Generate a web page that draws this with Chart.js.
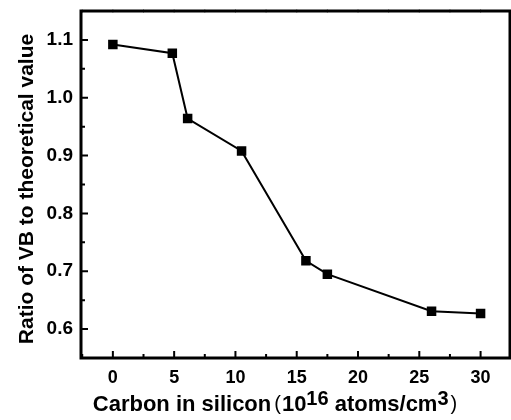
<!DOCTYPE html>
<html>
<head>
<meta charset="utf-8">
<script src="https://cdn.jsdelivr.net/npm/chart.js@4/dist/chart.umd.min.js"></script>
<style>
html,body{margin:0;padding:0;background:#fff;}
#wrap{width:511px;height:420px;position:relative;}
</style>
</head>
<body>
<div id="wrap"><canvas id="c" width="511" height="420"></canvas></div>
<script>
const carbon = [0, 4.85, 6.1, 10.5, 15.75, 17.5, 26, 30];
const ratio = [1.092, 1.077, 0.964, 0.908, 0.718, 0.695, 0.631, 0.627];
const xTicks = [0, 5, 10, 15, 20, 25, 30];
const yTicks = [0.6, 0.7, 0.8, 0.9, 1.0, 1.1];
const xMinor = [-2.5, 2.5, 7.5, 12.5, 17.5, 22.5, 27.5, 32.5];
const yMinor = [0.55, 0.65, 0.75, 0.85, 0.95, 1.05, 1.15];
const yTitle = "Ratio of VB to theoretical value";

const FONT = '"Liberation Sans", Arial, sans-serif';

const framePlugin = {
  id: 'frame',
  afterDraw(chart) {
    const ctx = chart.ctx;
    const a = chart.chartArea;
    const xs = chart.scales.x, ys = chart.scales.y;
    ctx.save();
    ctx.strokeStyle = '#000';
    ctx.lineWidth = 2;
    ctx.beginPath();
    xTicks.forEach(v => { const p = xs.getPixelForValue(v); ctx.moveTo(p, a.bottom); ctx.lineTo(p, a.bottom - 7); });
    xMinor.forEach(v => { const p = xs.getPixelForValue(v); if (p > a.left && p < a.right) { ctx.moveTo(p, a.bottom); ctx.lineTo(p, a.bottom - 4); } });
    yTicks.forEach(v => { const p = ys.getPixelForValue(v); ctx.moveTo(a.left, p); ctx.lineTo(a.left + 7, p); });
    yMinor.forEach(v => { const p = ys.getPixelForValue(v); if (p > a.top && p < a.bottom) { ctx.moveTo(a.left, p); ctx.lineTo(a.left + 4, p); } });
    ctx.stroke();
    ctx.strokeStyle = '#aaa';
    ctx.lineWidth = 1;
    ctx.beginPath();
    xTicks.concat(xMinor).forEach(v => { const p = xs.getPixelForValue(v); if (p > a.left && p < a.right) { ctx.moveTo(p, a.top - 2); ctx.lineTo(p, a.top + 2); } });
    ctx.stroke();
    ctx.strokeStyle = '#000';
    ctx.lineWidth = 3;
    ctx.strokeRect(a.left, a.top, a.right - a.left, a.bottom - a.top);
    const parts = [
      {t: 'Carbon in silicon', f: 'bold 22px ' + FONT, dy: 0},
      {t: '(', f: '20px ' + FONT, dy: -1, pre: 3, post: 1},
      {t: '10', f: 'bold 22px ' + FONT, dy: 0},
      {t: '16', f: 'bold 20px ' + FONT, dy: -6},
      {t: ' atoms/cm', f: 'bold 22px ' + FONT, dy: 0},
      {t: '3', f: 'bold 20px ' + FONT, dy: -6},
      {t: ')', f: '20px ' + FONT, dy: -1, pre: 2, post: 0}
    ];
    let total = 0;
    parts.forEach(p => { ctx.font = p.f; p.mw = ctx.measureText(p.t).width; total += p.mw + (p.pre || 0) + (p.post || 0); });
    let x = 275 - total / 2;
    const base = 411;
    ctx.fillStyle = '#000';
    ctx.textBaseline = 'alphabetic';
    ctx.textAlign = 'left';
    parts.forEach(p => {
      ctx.font = p.f;
      x += (p.pre || 0);
      ctx.fillText(p.t, x, base + p.dy);
      x += p.mw + (p.post || 0);
    });
    ctx.save();
    ctx.translate(33, 189);
    ctx.rotate(-Math.PI / 2);
    ctx.font = 'bold 21px ' + FONT;
    ctx.textAlign = 'center';
    ctx.textBaseline = 'alphabetic';
    ctx.fillText(yTitle, 0, 0);
    ctx.restore();
    ctx.restore();
  }
};

new Chart(document.getElementById('c'), {
  type: 'scatter',
  data: {
    datasets: [{
      data: carbon.map((c, i) => ({x: c, y: ratio[i]})),
      showLine: true,
      borderColor: '#000',
      backgroundColor: '#000',
      borderWidth: 2,
      pointStyle: 'rect',
      pointRadius: 5.3,
      pointHoverRadius: 5.3,
      tension: 0
    }]
  },
  options: {
    responsive: false,
    animation: false,
    events: [],
    layout: {autoPadding: false, padding: {top: 11, right: 1, left: 0, bottom: 0}},
    plugins: {legend: {display: false}, tooltip: {enabled: false}},
    scales: {
      x: {
        type: 'linear', min: -2.6, max: 32.4,
        afterBuildTicks(s) { s.ticks = xTicks.map(v => ({value: v})); },
        afterFit(s) { s.height = 62; s.paddingLeft = 0; s.paddingRight = 0; },
        grid: {display: false, drawTicks: false},
        border: {display: false},
        ticks: {color: '#000', font: {family: FONT, size: 18, weight: 'bold'}, padding: 9, maxRotation: 0}
      },
      y: {
        type: 'linear', min: 0.55, max: 1.15,
        afterBuildTicks(s) { s.ticks = yTicks.map(v => ({value: v})); },
        afterFit(s) { s.width = 81; s.paddingTop = 0; s.paddingBottom = 0; },
        grid: {display: false, drawTicks: false},
        border: {display: false},
        ticks: {color: '#000', font: {family: FONT, size: 19, weight: 'bold'}, padding: 8,
          callback: v => v.toFixed(1)}
      }
    }
  },
  plugins: [framePlugin]
});
</script>
</body>
</html>
